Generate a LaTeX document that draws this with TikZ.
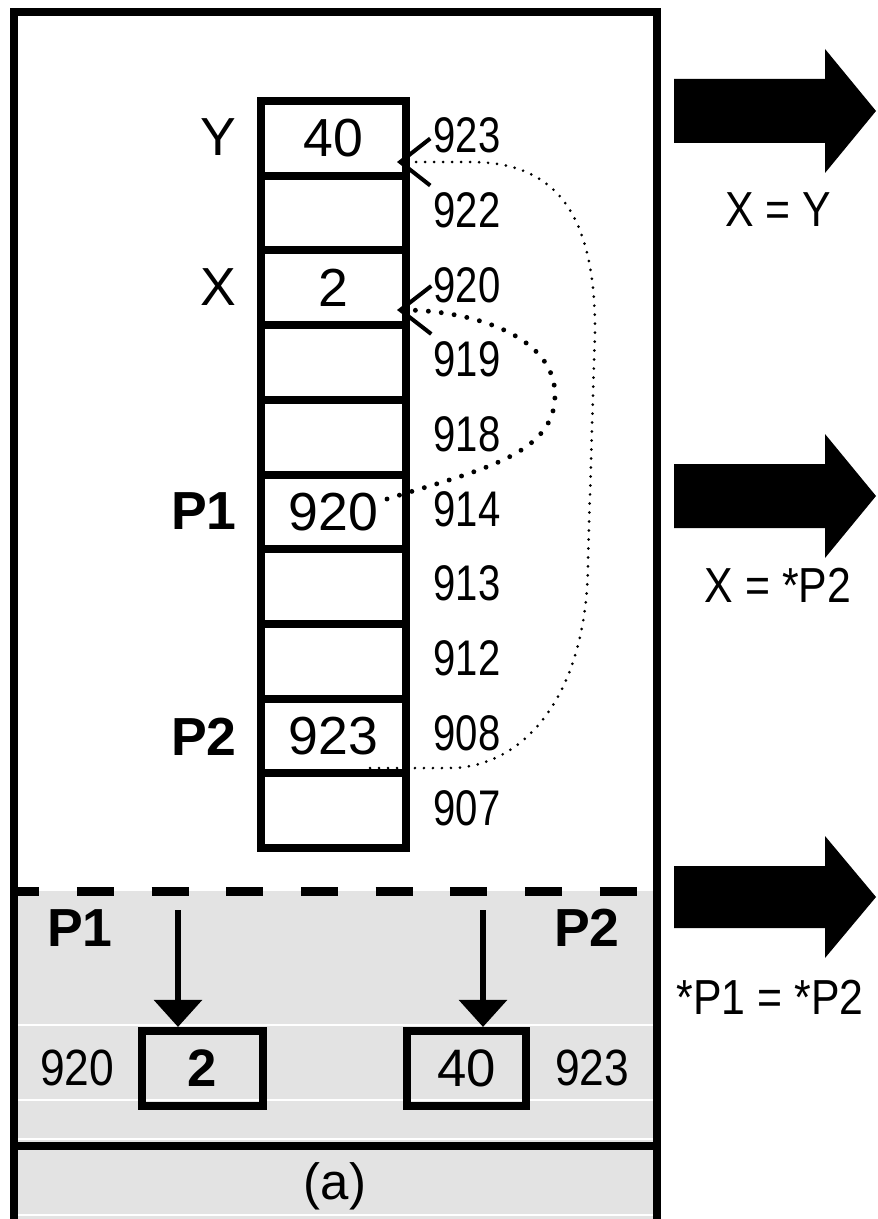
\documentclass[tikz,border=0pt]{standalone}
\usepackage{fontspec}
\setmainfont{Liberation Sans}
\newfontfamily\addrfont[FakeStretch=0.8]{Liberation Sans}
\newfontfamily\notefont[FakeStretch=0.87]{Liberation Sans}
\usetikzlibrary{arrows.meta}
\definecolor{panelgray}{RGB}{227,227,227}

\begin{document}
\begin{tikzpicture}[x=0.02cm,y=-0.02cm,line join=miter,
  cell/.style={draw,line width=4.6pt,minimum width=2.9cm,minimum height=1.494cm,inner sep=0pt,outer sep=0pt,font=\fontsize{30.5}{36}\selectfont},
  valbox/.style={draw,line width=4.6pt,minimum height=1.5cm,inner sep=0pt,font=\fontsize{30}{36}\selectfont},
  addr/.style={inner sep=0pt,font=\addrfont\fontsize{28.5}{34}\selectfont},
  var/.style={inner sep=0pt,font=\fontsize{30.5}{36}\selectfont},
  note/.style={inner sep=0pt,font=\notefont\fontsize{28}{34}\selectfont},
  ref/.style={dash pattern=on 0pt off 0.18cm,line cap=round,line width=1.7pt,
    -{Straight Barb[length=0.6cm,width=0.94cm,line width=0.08cm]}},
  deref/.style={dash pattern=on 0pt off 0.26cm,line cap=round,line width=2.8pt,
    -{Straight Barb[length=0.62cm,width=0.96cm,line width=0.08cm]}},
  ptr/.style={line width=3.5pt,-{Triangle[length=0.54cm,width=0.94cm]}},
]
\useasboundingbox (0,0) rectangle (877,1219);
%%
%% shaded lower part
\fill [panelgray] (14,891) rectangle (657,1219);
\draw [white,line width=0.8pt] (18,1025) -- (653,1025) (18,1100) -- (653,1100)
  (18,1139) -- (653,1139) (18,1215) -- (653,1215);
\draw [line width=0.18cm,dash pattern=on 0.74cm off 0.754cm,dash phase=0.234cm] (14,891) -- (657,891);
\draw [line width=0.16cm] (14,1146) -- (657,1146);
\draw [line width=0.16cm] (14,1250) -- (14,12) -- (657,12) -- (657,1250);
%
%% memory column
\node (cell_0) at (333.5,138.4) [cell] {40};
\node (cell_1) at (333.5,213.1) [cell] {};
\node (cell_2) at (333.5,287.8) [cell] {2};
\node (cell_3) at (333.5,362.5) [cell] {};
\node (cell_4) at (333.5,437.2) [cell] {};
\node (cell_5) at (333.5,511.9) [cell] {920};
\node (cell_6) at (333.5,586.6) [cell] {};
\node (cell_7) at (333.5,661.3) [cell] {};
\node (cell_8) at (333.5,736.0) [cell] {923};
\node (cell_9) at (333.5,810.7) [cell] {};

\node (addr_0) at (467,135) [addr] {923};
\node (addr_1) at (467,210) [addr] {922};
\node (addr_2) at (467,285) [addr] {920};
\node (addr_3) at (467,359) [addr] {919};
\node (addr_4) at (467,434) [addr] {918};
\node (addr_5) at (467,509) [addr] {914};
\node (addr_6) at (467,583) [addr] {913};
\node (addr_7) at (467,658) [addr] {912};
\node (addr_8) at (467,733) [addr] {908};
\node (addr_9) at (467,808) [addr] {907};

\node (var_y) at (218,137) [var] {Y};
\node (var_x) at (218,287) [var] {X};
\node (var_p1) at (204,511) [var] {\bfseries P1};
\node (var_p2) at (204,737) [var] {\bfseries P2};
%
%% pointers inside the column
\coordinate (from_p2) at (370,768);
\coordinate (from_p1) at (387,499);
\coordinate (to_y) at (397,162);
\coordinate (to_x) at (397,310);
\draw [ref] (from_p2) -- (450,768) .. controls (520,768) and (588,700) .. (588,560)
  -- (595,330) .. controls (595,200) and (545,162) .. (470,162) -- (to_y);
\draw [deref] (from_p1) .. controls (480,470) and (555,455) .. (555,395)
  .. controls (555,335) and (470,310) .. (to_x);
%
%% lower part
\node (low_p1) at (80,928) [var] {\bfseries P1};
\node (low_p2) at (587,928) [var] {\bfseries P2};
\node (box_p1) at (202.5,1068.5) [valbox,minimum width=2.42cm] {\bfseries 2};
\node (box_p2) at (466.5,1068.5) [valbox,minimum width=2.38cm] {40};
\node (addr_p1) at (77,1068) [note,font=\notefont\fontsize{29}{34}\selectfont] {920};
\node (addr_p2) at (592,1068) [note,font=\notefont\fontsize{29}{34}\selectfont] {923};
\coordinate (top_p1) at (178,910);
\coordinate (top_p2) at (483,910);
\draw [ptr] (top_p1) -- (top_p1 |- box_p1.north);
\draw [ptr] (top_p2) -- (top_p2 |- box_p2.north);

\node (caption) at (335,1186) [var,font=\fontsize{29}{34}\selectfont] {(a)};
%
%% steps on the right
\fill [shift={(0,111)}] (674,-32) -- (825,-32) -- (825,-62) -- (876,0) -- (825,62) -- (825,32) -- (674,32) -- cycle;
\fill [shift={(0,496)}] (674,-32) -- (825,-32) -- (825,-62) -- (876,0) -- (825,62) -- (825,32) -- (674,32) -- cycle;
\fill [shift={(0,897)}] (674,-31) -- (825,-31) -- (825,-61) -- (876,0) -- (825,61) -- (825,31) -- (674,31) -- cycle;
\node (note_0) at (778,210) [note] {X = Y};
\node (note_1) at (778,585) [note] {X = *P2};
\node (note_2) at (770,997) [note] {*P1 = *P2};
%
\end{tikzpicture}
\end{document}
